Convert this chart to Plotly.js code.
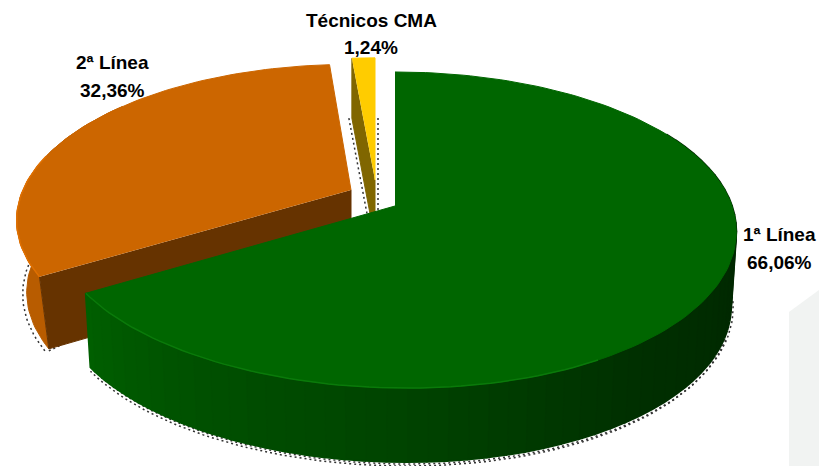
<!DOCTYPE html>
<html><head><meta charset="utf-8">
<script src="https://cdn.plot.ly/plotly-3.0.1.min.js"></script>
<style>html,body{margin:0;padding:0;background:#fff}#c{width:819px;height:466px}</style>
</head><body><div id="c"></div>
<script>
var categories = ["1ª Línea", "2ª Línea", "Técnicos CMA"];
var shares = [66.06, 32.36, 1.24];
var topColors = ["#006600", "#CC6600", "#FFCC00"];
var cutColors = ["#005500", "#663300", "#806600"];
var outerColors = ["#003000", "#B85C00", "#806600"];
var wedgeShape = [
  {cx:395, cy:206, A:337, B:154.4, k:0.152, depth:74, shrink:0.985, skew:12},
  {cx:351, cy:190, A:328, B:150, k:0.194, depth:72, shrink:0.97, skew:0},
  {cx:375, cy:180, A:337, B:139, k:0.138, depth:60, shrink:1, skew:0}
];
var wallAngles = [60, 100, 140, 180, 210, 239];
var wallGreen = [38, 40, 47, 68, 80, 96];

var total = shares.reduce(function(a,b){return a+b;},0);
var traces = [];
function proj(p, deg, low){
  var t = deg*Math.PI/180, u = Math.sin(t), v = -Math.cos(t), s = 1/(1-p.k*v);
  var f = low ? p.shrink : 1;
  return [p.cx + p.A*u*s*f + (v>0 ? p.skew*v*v : 0), p.cy + p.B*v*s + (low ? p.depth : 0)];
}
function arc(p, a, b, low){
  var out = [], n = Math.max(2, Math.ceil(Math.abs(b-a)/1.5));
  for (var i=0;i<=n;i++) out.push(proj(p, a+(b-a)*i/n, low));
  return out;
}
function poly(pts, color, w){
  traces.push({type:"scatter", mode:"lines", x:pts.map(function(q){return q[0];}), y:pts.map(function(q){return q[1];}),
    fill:"toself", fillcolor:color, line:{color:color, width:w||1}, hoverinfo:"skip", showlegend:false});
}
function stroke(pts, color, width, dash){
  traces.push({type:"scatter", mode:"lines", x:pts.map(function(q){return q[0];}), y:pts.map(function(q){return q[1];}),
    line:{color:color, width:width, dash:dash||"solid"}, hoverinfo:"skip", showlegend:false});
}
function dots(pts){ stroke(pts, "#333333", 1.5, "2px,3px"); }
function shift(pts, dx, dy){ return pts.map(function(q){return [q[0]+dx, q[1]+dy];}); }
function rampGreen(a){
  for (var i=0;i<wallAngles.length-1;i++){
    if (a<=wallAngles[i+1]){
      var f=(a-wallAngles[i])/(wallAngles[i+1]-wallAngles[i]);
      return "rgb(0,"+Math.round(wallGreen[i]+f*(wallGreen[i+1]-wallGreen[i]))+",0)";
    }
  }
  return "rgb(0,96,0)";
}

var ends = [], acc = 0;
shares.forEach(function(v){ var a = acc; acc += v/total*360; ends.push([a, acc]); });

// yellow wedge
var py = wedgeShape[2], ey = ends[2];
dots(shift(arc(py, ey[0], ey[0], true).concat([[py.cx, py.cy+py.depth]]), -3, 0));
dots([[378,118],[378,212]]);
poly(arc(py,ey[0],ey[0],false).concat(arc(py,ey[0],ey[0],true),[[py.cx,py.cy+py.depth],[py.cx,py.cy]]), cutColors[2]);
poly(arc(py,ey[0],ey[1],false).concat([[py.cx,py.cy]]), topColors[2]);

// orange wedge
var po = wedgeShape[1], eo = ends[1];
dots(shift(arc(po, eo[0], eo[0]+40, true), -4, 2));
dots(shift(arc(po, eo[0], eo[0], true), 0, 2).concat([[po.cx-200, po.cy+po.depth+40]]));
poly(arc(po,eo[0],eo[0]+70,false).concat(arc(po,eo[0]+70,eo[0],true)), outerColors[1]);
poly([proj(po,eo[0],false), proj(po,eo[0],true), [po.cx,po.cy+po.depth], [po.cx,po.cy]], cutColors[1]);
poly(arc(po,eo[0],eo[1],false).concat([[po.cx,po.cy]]), topColors[1]);
stroke(arc(po,eo[0],eo[0]+45,false), "#E07000", 1.5);

// green wedge
var pg = wedgeShape[0], eg = ends[0];
dots(shift(arc(pg, 75, eg[1], true), 2, 2));
dots(shift(arc(pg, 110, eg[1], true), 0, 4));
dots([[398,120],[398,202]]);
for (var a=60; a<eg[1]-0.01; a+=3){
  var b = Math.min(a+3, eg[1]);
  poly(arc(pg,a,b,false).concat(arc(pg,b,a,true)), rampGreen(a), 2);
}
poly(arc(pg,eg[0],eg[1],false).concat([[pg.cx,pg.cy]]), topColors[0]);
stroke(arc(pg,150,eg[1],false), "#0A7A0A", 1.5);

function pct(v){ return v.toFixed(2).replace(".", ",") + "%"; }
var labelPos = [[779,234,262],[112,62,90],[371,20,47]];
var anns = [];
categories.forEach(function(c,i){
  [c, pct(shares[i])].forEach(function(t,j){
    anns.push({x:labelPos[i][0], y:labelPos[i][j+1], xref:"x", yref:"y", text:"<b>"+t+"</b>", showarrow:false,
      xanchor:"center", yanchor:"middle", font:{family:"Liberation Sans", size:19, color:"#000"}});
  });
});

Plotly.newPlot("c", traces, {
  width:819, height:466, margin:{l:0,r:0,t:0,b:0}, paper_bgcolor:"#fff", plot_bgcolor:"#fff",
  showlegend:false,
  xaxis:{range:[0,819], visible:false, fixedrange:true},
  yaxis:{range:[466,0], visible:false, fixedrange:true},
  annotations:anns,
  shapes:[{type:"path", path:"M789,466 L789,312 L819,290 L819,466 Z", fillcolor:"#f1f3f2", line:{width:0}, layer:"below", xref:"x", yref:"y"}]
}, {displayModeBar:false, staticPlot:true});
</script></body></html>
